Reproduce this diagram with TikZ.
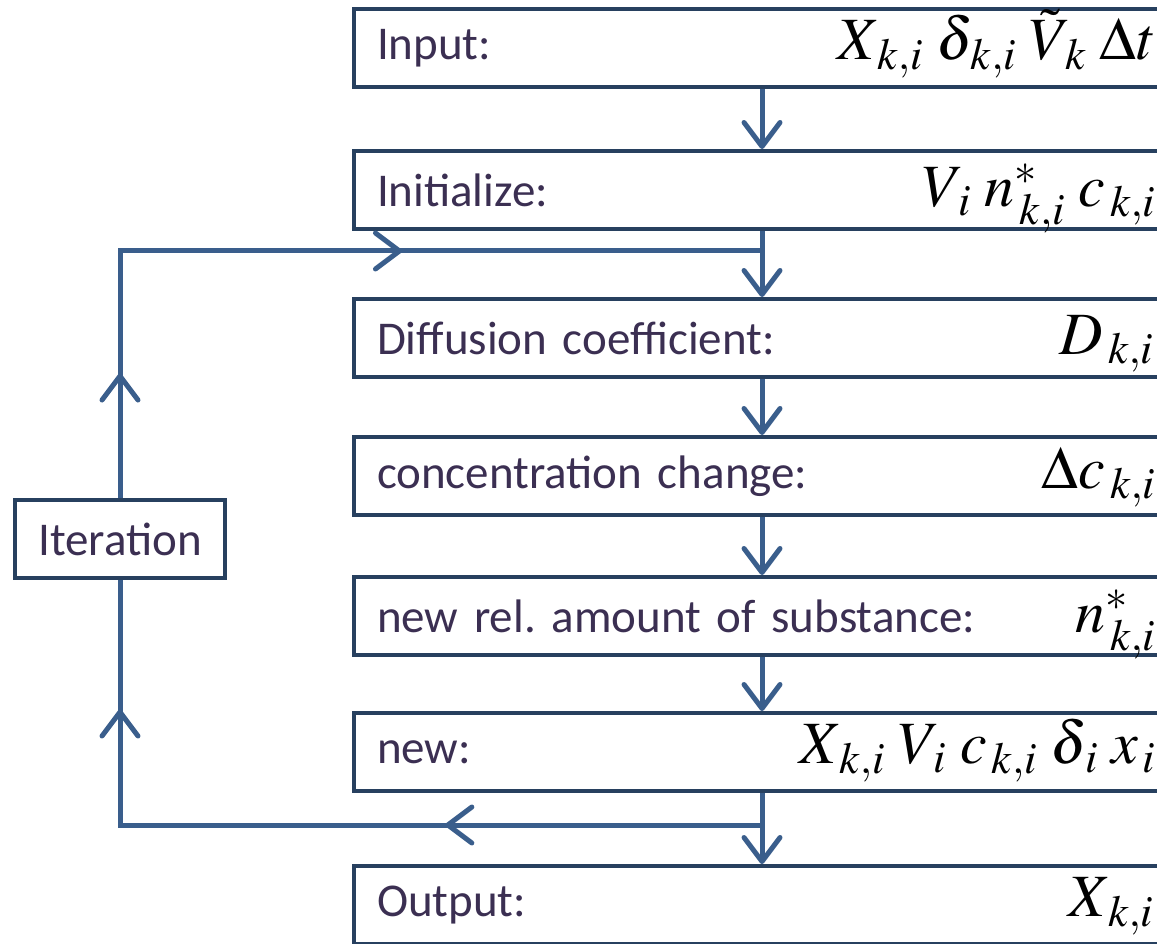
\documentclass[tikz,border=0pt]{standalone}
\usepackage{mathptmx}
\usepackage[no-math]{fontspec}
\setmainfont{Carlito}
\usetikzlibrary{arrows.meta,positioning,calc,decorations.markings}

\definecolor{boxline}{HTML}{27405F}
\definecolor{flowline}{HTML}{3A5E8C}
\definecolor{txtcol}{HTML}{3B2F52}

\begin{document}
\begin{tikzpicture}[
  x=1pt, y=-1pt,
  >={Straight Barb[length=24pt,width=36pt,round]},
  stepbox/.style={draw=boxline, line width=4pt, fill=white, text=txtcol,
                  font=\fontsize{47}{56}\selectfont, text width=770pt,
                  align=left, inner xsep=23pt, minimum height=78pt},
  iterbox/.style={draw=boxline, line width=4pt, fill=white, text=txtcol,
                  font=\fontsize{47}{56}\selectfont, minimum width=210pt,
                  minimum height=78pt},
  mathlbl/.style={inner sep=0pt, font=\fontsize{60}{68}\selectfont},
  flow/.style={draw=flowline, line width=5pt},
  loopdown/.style={flow, postaction={decorate}, decoration={markings,
                   mark=at position 0.357 with {\arrow{>}},
                   mark=at position 0.854 with {\arrow{>}}}},
  loopup/.style={flow, postaction={decorate}, decoration={markings,
                 mark=at position 0.14 with {\arrow{>}},
                 mark=at position 0.595 with {\arrow{>}}}}
]
\path[use as bounding box, clip] (0,0) rectangle (1157,944);

% Steps of the calculation
\node[stepbox, anchor=west] (input) at (352,48) {Input:};
\node[stepbox, below=60pt of input] (init) {Initialize:};
\node[stepbox, below=66pt of init] (diff) {Diffusion coefficient:};
\node[stepbox, below=56pt of diff] (conc) {concentration change:};
\node[stepbox, below=58pt of conc] (subst) {new rel.\ amount of substance:};
\node[stepbox, below=54pt of subst] (newv) {new:};
\node[stepbox, below=71pt of newv] (output) {Output:};

% Quantities of each step
\node[mathlbl, anchor=base east] (input-m) at ([xshift=-16pt]input.base east)
  {$X_{\,k,i}\;\delta_{\,k,i}\;\tilde{V}_{\,k}\;\Delta t$};
\node[mathlbl, anchor=base east] (init-m) at ([xshift=-16pt]init.base east)
  {$V_{\,i}\;n^{*}_{\,k,i}\;c_{\,k,i}$};
\node[mathlbl, anchor=base east] (diff-m) at ([xshift=-18pt]diff.base east)
  {$D_{\,k,i}$};
\node[mathlbl, anchor=base east] (conc-m) at ([xshift=-16pt]conc.base east)
  {$\Delta c_{\,k,i}$};
\node[mathlbl, anchor=base east] (subst-m) at ([xshift=-16pt]subst.base east)
  {$n^{*}_{\,k,i}$};
\node[mathlbl, anchor=base east] (newv-m) at ([xshift=-16pt]newv.base east)
  {$X_{\,k,i}\;V_{\,i}\;c_{\,k,i}\;\delta_{\,i}\;x_{\,i}$};
\node[mathlbl, anchor=base east] (output-m) at ([xshift=-18pt]output.base east)
  {$X_{\,k,i}$};

\node[iterbox] (iter) at (120,539) {Iteration};

% Main flow
\draw[flow,->] (input) -- (init);
\draw[flow,->] (init) -- (diff);
\draw[flow,->] (diff) -- (conc);
\draw[flow,->] (conc) -- (subst);
\draw[flow,->] (subst) -- (newv);
\draw[flow,->] (newv) -- (output);

% Iteration loop
\coordinate (merge) at ($(init.south)+(0,20)$);
\coordinate (split) at ($(newv.south)+(0,32)$);
\draw[loopdown] (split) -- (split -| iter.center) -- (iter.south);
\draw[loopup] (iter.north) -- (merge -| iter.center) -- (merge);

\end{tikzpicture}
\end{document}
